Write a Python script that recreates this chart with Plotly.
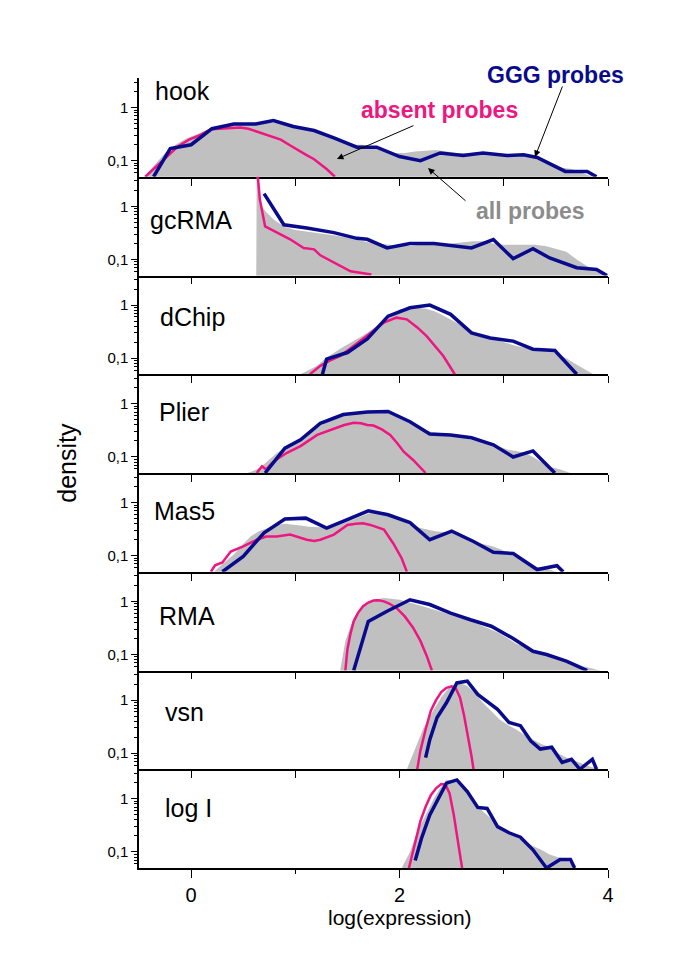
import math
import plotly.graph_objects as go
from plotly.subplots import make_subplots

# ---------------- data ----------------
methods = ["hook", "gcRMA", "dChip", "Plier", "Mas5", "RMA", "vsn", "log I"]

# hook
hook_all_x = [-0.45, -0.35, -0.25, -0.15, -0.05, 0.05, 0.15, 0.25, 0.35, 0.45, 0.55, 0.65, 0.75, 0.85, 0.95, 1.05, 1.15, 1.25, 1.35, 1.45, 1.55, 1.65, 1.75, 1.85, 1.95, 2.05, 2.15, 2.25, 2.35, 2.45, 2.55, 2.65, 2.75, 2.85, 2.95, 3.05, 3.15, 3.25, 3.35, 3.45, 3.55, 3.65, 3.75, 3.85]
hook_all_y = [0.05, 0.085, 0.14, 0.2, 0.26, 0.31, 0.37, 0.42, 0.46, 0.48, 0.5, 0.52, 0.53, 0.5, 0.45, 0.41, 0.37, 0.33, 0.29, 0.23, 0.2, 0.2, 0.18, 0.16, 0.14, 0.14, 0.15, 0.155, 0.16, 0.15, 0.14, 0.14, 0.145, 0.14, 0.135, 0.13, 0.13, 0.12, 0.11, 0.09, 0.075, 0.07, 0.06, 0.05]
hook_absent_x = [-0.44, -0.33, -0.23, -0.12, -0.02, 0.08, 0.19, 0.28, 0.38, 0.47, 0.55, 0.64, 0.73, 0.8, 0.86, 0.94, 1.02, 1.1, 1.18, 1.25, 1.3, 1.38]
hook_absent_y = [0.05, 0.08, 0.12, 0.19, 0.25, 0.3, 0.39, 0.4, 0.41, 0.42, 0.4, 0.35, 0.31, 0.28, 0.25, 0.2, 0.16, 0.13, 0.107, 0.085, 0.07, 0.05]
hook_ggg_x = [-0.36, -0.2, 0.0, 0.2, 0.41, 0.62, 0.79, 0.98, 1.18, 1.37, 1.59, 1.78, 2.0, 2.2, 2.39, 2.61, 2.8, 3.03, 3.19, 3.32, 3.59, 3.8, 3.89]
hook_ggg_y = [0.05, 0.17, 0.20, 0.40, 0.49, 0.49, 0.57, 0.44, 0.37, 0.27, 0.18, 0.18, 0.12, 0.10, 0.14, 0.125, 0.14, 0.125, 0.13, 0.115, 0.063, 0.063, 0.05]

# gcRMA
gcrma_all_x = [0.625, 0.63, 0.66, 0.72, 0.8, 0.9, 1.0, 1.1, 1.2, 1.3, 1.4, 1.5, 1.6, 1.7, 1.8, 1.9, 2.0, 2.1, 2.2, 2.3, 2.4, 2.5, 2.6, 2.7, 2.8, 2.9, 3.0, 3.1, 3.2, 3.3, 3.4, 3.5, 3.6, 3.7, 3.8, 3.9, 4.0]
gcrma_all_y = [0.05, 6.0, 1.1, 0.78, 0.55, 0.41, 0.36, 0.34, 0.32, 0.3, 0.28, 0.26, 0.23, 0.21, 0.2, 0.19, 0.18, 0.18, 0.19, 0.19, 0.19, 0.2, 0.21, 0.22, 0.22, 0.2, 0.19, 0.19, 0.19, 0.19, 0.18, 0.16, 0.14, 0.1, 0.075, 0.06, 0.05]
gcrma_absent_x = [0.63, 0.66, 0.71, 0.82, 0.95, 1.08, 1.18, 1.24, 1.37, 1.53, 1.73]
gcrma_absent_y = [6.0, 1.33, 0.42, 0.32, 0.24, 0.165, 0.155, 0.12, 0.087, 0.06, 0.052]
gcrma_ggg_x = [0.70, 0.89, 1.11, 1.37, 1.59, 1.69, 1.88, 2.1, 2.33, 2.49, 2.69, 2.9, 3.09, 3.28, 3.44, 3.7, 3.89, 3.99]
gcrma_ggg_y = [1.73, 0.45, 0.39, 0.32, 0.25, 0.24, 0.165, 0.20, 0.20, 0.185, 0.165, 0.237, 0.104, 0.159, 0.107, 0.07, 0.065, 0.05]

# dChip
dchip_all_x = [1.05, 1.13, 1.21, 1.29, 1.37, 1.45, 1.53, 1.61, 1.69, 1.77, 1.85, 1.93, 2.0, 2.08, 2.17, 2.25, 2.33, 2.41, 2.49, 2.57, 2.65, 2.73, 2.8, 2.88, 2.96, 3.04, 3.12, 3.2, 3.28, 3.36, 3.44, 3.52, 3.6, 3.68, 3.76, 3.86]
dchip_all_y = [0.05, 0.06, 0.072, 0.1, 0.128, 0.16, 0.196, 0.245, 0.3, 0.39, 0.5, 0.65, 0.83, 0.87, 0.89, 0.85, 0.77, 0.65, 0.54, 0.44, 0.35, 0.3, 0.26, 0.235, 0.21, 0.19, 0.17, 0.16, 0.15, 0.145, 0.14, 0.12, 0.1, 0.08, 0.065, 0.05]
dchip_absent_x = [1.14, 1.24, 1.33, 1.43, 1.54, 1.65, 1.75, 1.85, 1.97, 2.07, 2.17, 2.26, 2.34, 2.42, 2.53]
dchip_absent_y = [0.05, 0.072, 0.09, 0.11, 0.16, 0.23, 0.33, 0.47, 0.58, 0.54, 0.38, 0.26, 0.17, 0.11, 0.05]
dchip_ggg_x = [1.26, 1.3, 1.5, 1.69, 1.89, 2.1, 2.29, 2.49, 2.69, 2.87, 3.09, 3.28, 3.49, 3.7]
dchip_ggg_y = [0.05, 0.096, 0.128, 0.23, 0.62, 0.89, 1.0, 0.67, 0.30, 0.24, 0.21, 0.148, 0.14, 0.05]

# Plier
plier_all_x = [0.54, 0.6, 0.66, 0.74, 0.82, 0.9, 0.98, 1.05, 1.14, 1.22, 1.3, 1.38, 1.46, 1.53, 1.61, 1.69, 1.75, 1.83, 1.91, 1.99, 2.07, 2.15, 2.22, 2.3, 2.38, 2.49, 2.57, 2.65, 2.73, 2.81, 2.9, 2.98, 3.05, 3.12, 3.2, 3.28, 3.36, 3.44, 3.52, 3.57, 3.64]
plier_all_y = [0.05, 0.055, 0.063, 0.085, 0.118, 0.15, 0.185, 0.22, 0.28, 0.36, 0.46, 0.54, 0.6, 0.65, 0.68, 0.7, 0.7, 0.69, 0.65, 0.55, 0.46, 0.39, 0.33, 0.3, 0.28, 0.26, 0.24, 0.22, 0.2, 0.19, 0.17, 0.15, 0.135, 0.13, 0.12, 0.1, 0.08, 0.065, 0.06, 0.055, 0.05]
plier_absent_x = [0.63, 0.68, 0.72, 0.77, 0.82, 0.92, 1.05, 1.21, 1.37, 1.47, 1.56, 1.63, 1.69, 1.75, 1.83, 1.91, 1.98, 2.04, 2.13, 2.25]
plier_absent_y = [0.05, 0.067, 0.058, 0.075, 0.09, 0.12, 0.16, 0.26, 0.34, 0.4, 0.44, 0.43, 0.40, 0.39, 0.33, 0.26, 0.18, 0.126, 0.088, 0.05]
plier_ggg_x = [0.71, 0.9, 1.05, 1.24, 1.46, 1.69, 1.89, 2.1, 2.29, 2.49, 2.69, 2.9, 3.09, 3.28, 3.49]
plier_ggg_y = [0.05, 0.147, 0.21, 0.43, 0.63, 0.70, 0.72, 0.46, 0.27, 0.26, 0.23, 0.17, 0.1, 0.13, 0.05]

# Mas5
mas5_all_x = [0.22, 0.3, 0.41, 0.49, 0.57, 0.65, 0.73, 0.81, 0.89, 0.97, 1.05, 1.13, 1.21, 1.29, 1.37, 1.45, 1.54, 1.62, 1.7, 1.78, 1.86, 1.94, 2.02, 2.1, 2.18, 2.26, 2.34, 2.42, 2.49, 2.57, 2.65, 2.73, 2.81, 2.9, 2.98, 3.05, 3.12, 3.2, 3.28, 3.36, 3.44, 3.5]
mas5_all_y = [0.05, 0.07, 0.105, 0.16, 0.23, 0.29, 0.33, 0.37, 0.4, 0.39, 0.37, 0.35, 0.34, 0.34, 0.35, 0.4, 0.47, 0.55, 0.62, 0.68, 0.65, 0.59, 0.48, 0.38, 0.34, 0.31, 0.29, 0.28, 0.27, 0.23, 0.2, 0.18, 0.165, 0.15, 0.13, 0.11, 0.09, 0.075, 0.063, 0.058, 0.055, 0.05]
mas5_absent_x = [0.19, 0.23, 0.3, 0.38, 0.5, 0.63, 0.72, 0.82, 0.95, 1.03, 1.11, 1.18, 1.24, 1.37, 1.5, 1.58, 1.65, 1.72, 1.85, 1.94, 2.02, 2.07]
mas5_absent_y = [0.05, 0.066, 0.075, 0.12, 0.15, 0.2, 0.23, 0.23, 0.25, 0.22, 0.2, 0.19, 0.2, 0.25, 0.38, 0.4, 0.41, 0.38, 0.31, 0.17, 0.09, 0.05]
mas5_ggg_x = [0.3, 0.5, 0.7, 0.9, 1.1, 1.3, 1.51, 1.7, 1.89, 2.1, 2.29, 2.5, 2.71, 2.9, 3.09, 3.32, 3.51, 3.57]
mas5_ggg_y = [0.05, 0.097, 0.27, 0.49, 0.51, 0.33, 0.49, 0.7, 0.59, 0.42, 0.2, 0.29, 0.185, 0.116, 0.11, 0.055, 0.065, 0.05]

# RMA
rma_all_x = [1.43, 1.46, 1.48, 1.52, 1.56, 1.62, 1.69, 1.77, 1.85, 1.92, 2.0, 2.08, 2.17, 2.25, 2.33, 2.41, 2.49, 2.57, 2.65, 2.73, 2.8, 2.88, 2.96, 3.04, 3.12, 3.2, 3.28, 3.36, 3.44, 3.52, 3.6, 3.68, 3.76, 3.84, 3.92]
rma_all_y = [0.05, 0.1, 0.18, 0.3, 0.49, 0.72, 0.93, 1.08, 1.15, 1.12, 1.07, 0.97, 0.87, 0.78, 0.7, 0.63, 0.56, 0.5, 0.45, 0.39, 0.34, 0.29, 0.25, 0.2, 0.16, 0.14, 0.12, 0.11, 0.1, 0.09, 0.08, 0.07, 0.06, 0.055, 0.05]
rma_absent_x = [1.48, 1.5, 1.53, 1.56, 1.6, 1.65, 1.7, 1.75, 1.8, 1.85, 1.9, 1.97, 2.05, 2.13, 2.2, 2.26, 2.31]
rma_absent_y = [0.05, 0.126, 0.25, 0.42, 0.6, 0.81, 0.95, 1.035, 1.05, 1.0, 0.91, 0.75, 0.52, 0.32, 0.18, 0.095, 0.05]
rma_ggg_x = [1.56, 1.7, 1.88, 2.1, 2.29, 2.49, 2.68, 2.88, 3.09, 3.28, 3.41, 3.6, 3.8]
rma_ggg_y = [0.05, 0.42, 0.65, 1.07, 0.87, 0.6, 0.45, 0.34, 0.2, 0.115, 0.1, 0.075, 0.05]

# vsn
vsn_all_x = [2.07, 2.15, 2.23, 2.33, 2.41, 2.49, 2.58, 2.65, 2.73, 2.8, 2.88, 2.96, 3.04, 3.12, 3.2, 3.28, 3.36, 3.44, 3.52, 3.6, 3.68, 3.76, 3.84, 3.92]
vsn_all_y = [0.05, 0.12, 0.3, 0.67, 1.2, 1.83, 2.1, 1.83, 1.3, 0.89, 0.62, 0.43, 0.34, 0.28, 0.22, 0.18, 0.15, 0.13, 0.1, 0.083, 0.072, 0.062, 0.055, 0.05]
vsn_absent_x = [2.17, 2.2, 2.25, 2.3, 2.35, 2.4, 2.45, 2.5, 2.54, 2.58, 2.62, 2.66, 2.69, 2.71]
vsn_absent_y = [0.05, 0.112, 0.28, 0.63, 1.0, 1.41, 1.7, 1.82, 1.66, 1.12, 0.5, 0.2, 0.089, 0.05]
vsn_ggg_x = [2.25, 2.29, 2.36, 2.45, 2.55, 2.65, 2.75, 2.84, 2.94, 3.05, 3.16, 3.26, 3.35, 3.46, 3.56, 3.65, 3.73, 3.85, 3.89]
vsn_ggg_y = [0.083, 0.18, 0.47, 0.89, 2.1, 2.27, 1.28, 0.96, 0.67, 0.38, 0.33, 0.17, 0.12, 0.13, 0.067, 0.077, 0.05, 0.077, 0.05]

# log I
logi_all_x = [2.02, 2.1, 2.17, 2.25, 2.33, 2.39, 2.45, 2.5, 2.55, 2.6, 2.65, 2.73, 2.8, 2.88, 2.96, 3.04, 3.12, 3.2, 3.28, 3.36, 3.44, 3.52, 3.6, 3.65, 3.69]
logi_all_y = [0.05, 0.1, 0.24, 0.5, 1.03, 1.6, 2.27, 2.25, 2.1, 1.7, 1.37, 0.9, 0.58, 0.42, 0.3, 0.24, 0.19, 0.16, 0.13, 0.11, 0.09, 0.08, 0.072, 0.06, 0.05]
logi_absent_x = [2.09, 2.12, 2.16, 2.2, 2.25, 2.3, 2.35, 2.4, 2.44, 2.48, 2.52, 2.55, 2.58, 2.6]
logi_absent_y = [0.05, 0.089, 0.2, 0.38, 0.71, 1.17, 1.58, 1.9, 1.86, 1.26, 0.5, 0.22, 0.1, 0.05]
logi_ggg_x = [2.15, 2.21, 2.29, 2.39, 2.45, 2.55, 2.65, 2.75, 2.84, 2.94, 3.05, 3.16, 3.28, 3.41, 3.54, 3.64, 3.68]
logi_ggg_y = [0.069, 0.18, 0.5, 1.19, 1.97, 2.27, 1.37, 0.69, 0.66, 0.3, 0.23, 0.19, 0.11, 0.05, 0.072, 0.072, 0.05]

all_series = [
    (hook_all_x, hook_all_y, hook_absent_x, hook_absent_y, hook_ggg_x, hook_ggg_y),
    (gcrma_all_x, gcrma_all_y, gcrma_absent_x, gcrma_absent_y, gcrma_ggg_x, gcrma_ggg_y),
    (dchip_all_x, dchip_all_y, dchip_absent_x, dchip_absent_y, dchip_ggg_x, dchip_ggg_y),
    (plier_all_x, plier_all_y, plier_absent_x, plier_absent_y, plier_ggg_x, plier_ggg_y),
    (mas5_all_x, mas5_all_y, mas5_absent_x, mas5_absent_y, mas5_ggg_x, mas5_ggg_y),
    (rma_all_x, rma_all_y, rma_absent_x, rma_absent_y, rma_ggg_x, rma_ggg_y),
    (vsn_all_x, vsn_all_y, vsn_absent_x, vsn_absent_y, vsn_ggg_x, vsn_ggg_y),
    (logi_all_x, logi_all_y, logi_absent_x, logi_absent_y, logi_ggg_x, logi_ggg_y),
]

FLOOR = 0.01          # below axis range: closes the grey area
Y_MIN, Y_MAX = 0.05, 3.6
X_MIN, X_MAX = -0.5, 4.0

NAVY = "#0a0a8c"
PINK = "#ee1680"
GREY = "#c0c0c0"
FONT = "Liberation Sans, Arial, sans-serif"

# ---------------- figure ----------------
fig = make_subplots(rows=8, cols=1, shared_xaxes=True, vertical_spacing=0)

for i, (ax_, ay_, px_, py_, gx_, gy_) in enumerate(all_series, start=1):
    fig.add_trace(go.Scatter(x=ax_ + [ax_[-1], ax_[0]], y=ay_ + [FLOOR, FLOOR],
                             fill="toself", fillcolor=GREY, mode="lines",
                             line=dict(width=0, color=GREY), hoverinfo="skip",
                             showlegend=False), row=i, col=1)
    fig.add_trace(go.Scatter(x=px_, y=py_, mode="lines",
                             line=dict(color=PINK, width=2.5), showlegend=False),
                  row=i, col=1)
    fig.add_trace(go.Scatter(x=gx_, y=gy_, mode="lines",
                             line=dict(color=NAVY, width=3.5), showlegend=False),
                  row=i, col=1)

minor_y = [0.06, 0.07, 0.08, 0.09, 0.2, 0.3, 0.4, 0.5, 0.6, 0.7, 0.8, 0.9, 2, 3]
for i in range(1, 9):
    fig.update_yaxes(type="log", range=[math.log10(Y_MIN), math.log10(Y_MAX)],
                     tickmode="array", tickvals=[0.1, 1], ticktext=["0,1", "1"],
                     ticks="outside", ticklen=6, tickwidth=1.3, tickcolor="black",
                     showline=True, linecolor="black", linewidth=1.5,
                     showgrid=False, zeroline=False,
                     tickfont=dict(family=FONT, size=15, color="black"),
                     minor=dict(tickmode="array", tickvals=minor_y, ticks="outside",
                                ticklen=3, tickcolor="black", tickwidth=1, showgrid=False),
                     row=i, col=1)
    if i < 8:
        fig.update_xaxes(range=[X_MIN, X_MAX], tickmode="array", tickvals=[0, 1, 2, 3, 4],
                         ticks="outside", ticklen=7, tickwidth=1.3, tickcolor="black",
                         showticklabels=False, showline=True, linecolor="black",
                         linewidth=1.5, showgrid=False, zeroline=False, row=i, col=1)
    else:
        fig.update_xaxes(range=[X_MIN, X_MAX], tickmode="array", tickvals=[0, 2, 4],
                         ticktext=["0", "2", "4"],
                         ticks="outside", ticklen=8, tickwidth=1.3, tickcolor="black",
                         showticklabels=True, showline=True, linecolor="black",
                         linewidth=1.5, showgrid=False, zeroline=False,
                         tickfont=dict(family=FONT, size=20, color="black"),
                         minor=dict(tickmode="array", tickvals=[1, 3], ticks="outside",
                                    ticklen=4, tickcolor="black", tickwidth=1.3, showgrid=False),
                         row=i, col=1)

annotations = []
label_pos = [(0.030, 0.9835), (0.019, 0.8203), (0.0405, 0.6975), (0.0384, 0.5772),
             (0.0277, 0.4519), (0.0384, 0.3190), (0.0512, 0.1975), (0.0512, 0.0759)]
for name, (lx, ly) in zip(methods, label_pos):
    annotations.append(dict(text=name, x=lx, y=ly, xref="paper", yref="paper",
                            xanchor="left", yanchor="middle", showarrow=False,
                            font=dict(family=FONT, size=25, color="black")))

# series labels
annotations += [
    dict(text="<b>GGG probes</b>", x=0.887, y=1.0038, xref="paper", yref="paper",
         xanchor="center", yanchor="middle",
         showarrow=False, font=dict(family=FONT, size=23, color=NAVY)),
    dict(text="<b>absent probes</b>", x=0.6397, y=0.9595, xref="paper", yref="paper",
         xanchor="center", yanchor="middle",
         showarrow=False, font=dict(family=FONT, size=23, color=PINK)),
    dict(text="<b>all probes</b>", x=0.8337, y=0.8316, xref="paper", yref="paper",
         xanchor="center", yanchor="middle",
         showarrow=False, font=dict(family=FONT, size=23, color="#8c8c8c")),
]
# arrows
for hx, hy, axp, ayp in [(0.422, 0.8975, 78, -34), (0.8443, 0.900, 28, -72), (0.6162, 0.886, 39, 34)]:
    annotations.append(dict(text="", x=hx, y=hy, xref="paper", yref="paper",
                            ax=axp, ay=ayp, showarrow=True, arrowhead=2, arrowsize=1.3,
                            arrowwidth=1, arrowcolor="black"))

# axis titles
annotations += [
    dict(text="density", x=-0.1535, y=0.513, xref="paper", yref="paper", textangle=-90,
         xanchor="center", yanchor="middle",
         showarrow=False, font=dict(family=FONT, size=25, color="black")),
    dict(text="log(expression)", x=0.5565, y=-0.0625, xref="paper", yref="paper",
         xanchor="center", yanchor="middle",
         showarrow=False, font=dict(family=FONT, size=21, color="black")),
]

# page body has an 8 px margin: figure is 16 px smaller, margins shifted by 8 px
fig.update_layout(width=669, height=937, margin=dict(l=131, r=69, t=70, b=77),
                  plot_bgcolor="white", paper_bgcolor="white",
                  showlegend=False, annotations=annotations,
                  font=dict(family=FONT))

fig.write_html("out.html")
